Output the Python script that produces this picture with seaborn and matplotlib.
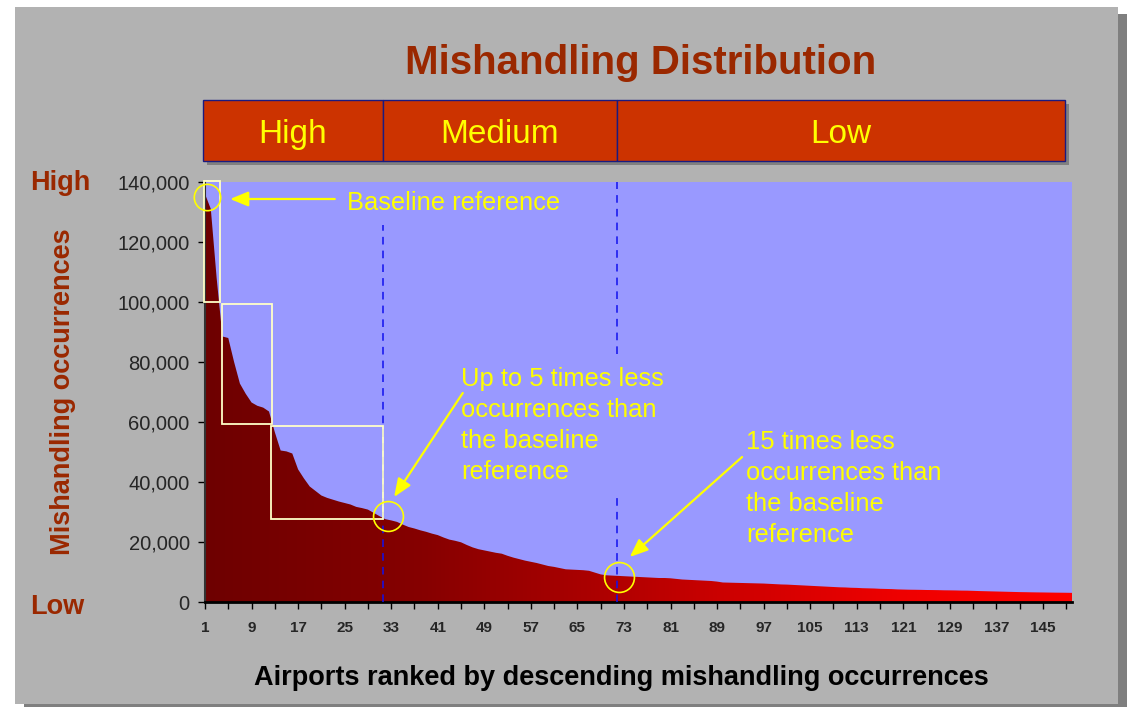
import numpy as np
import matplotlib
matplotlib.use("Agg")
import matplotlib.pyplot as plt
import seaborn as sns
import pandas as pd
from matplotlib.patches import Rectangle
from matplotlib.colors import LinearSegmentedColormap
from matplotlib.ticker import FuncFormatter, FixedLocator

# ---------------- data ----------------
ranks = list(range(1, 151))
occurrences = [
    136000, 131000, 108000, 88500, 88000, 80000, 72800, 69400, 66500, 65400,
    64800, 63500, 56600, 50500, 50200, 49500, 44200, 41200, 38500, 37000,
    35500, 34700, 34100, 33500, 33000, 32500, 31700, 31300, 30800, 29700,
    28600, 27600, 27200, 26700, 25800, 25000, 24500, 23900, 23400, 22800,
    22300, 21500, 20800, 20400, 19900, 19000, 18200, 17600, 17200, 16800,
    16400, 16100, 15400, 14800, 14300, 13800, 13400, 13000, 12500, 12000,
    11700, 11300, 10900, 10800, 10700, 10600, 10400, 9800, 9200, 8900,
    8800, 8700, 8600, 8500, 8400, 8300, 8200, 8100, 8000, 8000,
    7900, 7700, 7500, 7400, 7300, 7200, 7100, 7000, 6800, 6500,
    6450, 6400, 6350, 6300, 6250, 6200, 6150, 6050, 5950, 5850,
    5800, 5700, 5600, 5500, 5400, 5300, 5200, 5100, 5000, 4900,
    4850, 4750, 4700, 4600, 4550, 4500, 4400, 4350, 4300, 4200,
    4150, 4100, 4080, 4050, 4000, 3980, 3950, 3900, 3880, 3850,
    3800, 3780, 3720, 3650, 3600, 3550, 3500, 3450, 3400, 3350,
    3300, 3270, 3230, 3200, 3180, 3150, 3120, 3100, 3080, 3050,
]
xtick_labels = [str(v) for v in range(1, 151, 8)]
ytick_values = [0, 20000, 40000, 60000, 80000, 100000, 120000, 140000]
band_labels = ["High", "Medium", "Low"]

title = "Mishandling Distribution"
xlabel = "Airports ranked by descending mishandling occurrences"
ylabel = "Mishandling occurrences"

df = pd.DataFrame({"rank": ranks, "occurrences": occurrences})

# ---------------- style ----------------
sns.set_style("ticks")
plt.rcParams['font.family'] = ['Liberation Sans', 'DejaVu Sans']

W, H = 1127, 707
fig = plt.figure(figsize=(W / 100, H / 100), dpi=100)
fig.patch.set_facecolor("white")

DARK_RED = "#9a2800"
YELLOW = "#ffff00"

# background / frame axes (pixel coordinates)
bg = fig.add_axes([0, 0, 1, 1], zorder=0)
bg.set_xlim(0, W)
bg.set_ylim(H, 0)
bg.axis("off")
bg.add_patch(Rectangle((24, 14), W - 24, H - 14, facecolor="#7f7f7f", edgecolor="none"))
bg.add_patch(Rectangle((15, 7), 1118 - 15, 704 - 7, facecolor="#b2b2b2", edgecolor="none"))

# header band
band_px = [(203, 383), (383, 617), (617, 1065)]
bg.add_patch(Rectangle((207, 104), 1065 - 203, 61, facecolor="#808080", edgecolor="none"))
for (x0, x1), lab in zip(band_px, band_labels):
    bg.add_patch(Rectangle((x0, 100), x1 - x0, 61, facecolor="#cc3300",
                           edgecolor="#1a1a80", lw=1.0))
    bg.text((x0 + x1) / 2, 143, lab, ha="center", va="baseline",
            fontsize=24, color=YELLOW)

bg.text(640.5, 74, title, ha="center", va="baseline", fontsize=29,
        fontweight="bold", color=DARK_RED)
bg.text(30, 190.5, "High", ha="left", va="baseline", fontsize=19.5,
        fontweight="bold", color=DARK_RED)
bg.text(30, 614.5, "Low", ha="left", va="baseline", fontsize=19.5,
        fontweight="bold", color=DARK_RED)

# ---------------- main axes ----------------
ax = fig.add_axes([205 / W, 1 - 602 / H, (1072 - 205) / W, (602 - 182) / H], zorder=2)
ax.set_facecolor("#9999ff")

poly = ax.fill_between(df["rank"], df["occurrences"], 0, color="none", lw=0)
cmap = LinearSegmentedColormap.from_list(
    "redgrad",
    [(0.0, "#6e0000"), (0.25, "#860000"), (0.45, "#ac0000"),
     (0.6, "#cc0000"), (0.8, "#ee0000"), (1.0, "#ff0000")])
grad = np.linspace(0, 1, 512).reshape(1, -1)
im = ax.imshow(grad, cmap=cmap, aspect="auto", extent=[1, 150, 0, 140000],
               origin="lower", zorder=1, interpolation="bilinear")
im.set_clip_path(poly.get_paths()[0], transform=ax.transData)

sns.lineplot(data=df, x="rank", y="occurrences", ax=ax, color="#8b0000",
             lw=0, legend=False, zorder=2)

ax.set_xlim(1, 150)
ax.set_ylim(0, 140000)

# ticks
ax.xaxis.set_major_locator(FixedLocator(list(range(1, 151, 8))))
ax.xaxis.set_minor_locator(FixedLocator(list(range(5, 151, 8))))
ax.set_xticklabels(xtick_labels, fontsize=11, fontweight="bold")
ax.set_yticks(ytick_values)
ax.yaxis.set_major_formatter(FuncFormatter(lambda v, p: f"{int(v):,}"))
ax.tick_params(axis="x", which="both", direction="out", length=5, width=1,
               color="black", pad=9)
ax.tick_params(axis="y", which="major", direction="out", length=5, width=1,
               color="black", pad=6, labelsize=14.5)
for s in ["top", "right"]:
    ax.spines[s].set_visible(False)
ax.spines["bottom"].set_linewidth(2)
ax.spines["bottom"].set_color("black")
ax.spines["left"].set_linewidth(1.5)
ax.spines["left"].set_color("#333333")

ax.set_xlabel(xlabel, fontsize=19.5, fontweight="bold", color="black", labelpad=21)
ax.xaxis.label.set_x(0.48)
ax.set_ylabel(ylabel, fontsize=19.5, fontweight="bold", color=DARK_RED, labelpad=30)

# dashed separators
ax.plot([31.6, 31.6], [0, 125700], color="#1010ee", lw=1.1, ls=(0, (5, 4)), zorder=3)
ax.plot([71.8, 71.8], [0, 36400], color="#1010ee", lw=1.1, ls=(0, (5, 4)), zorder=3)
ax.plot([71.8, 71.8], [82700, 140000], color="#1010ee", lw=1.1, ls=(0, (5, 4)), zorder=3)

# step rectangles
RECT_C = "#ffffc8"
for (x0, x1, y0, y1) in [(0.85, 3.6, 100000, 140300),
                         (3.9, 12.5, 59400, 99300),
                         (12.4, 31.6, 27600, 58800)]:
    ax.add_patch(Rectangle((x0, y0), x1 - x0, y1 - y0, fill=False,
                           edgecolor=RECT_C, lw=1.3, clip_on=False, zorder=4))

# circles
ax.plot([1.34], [135000], marker="o", ms=19, mfc="none", mec=YELLOW, mew=1.2,
        clip_on=False, zorder=5)
ax.plot([32.4], [28667], marker="o", ms=21.5, mfc="none", mec=YELLOW, mew=1.2,
        clip_on=False, zorder=5)
ax.plot([72.2], [8333], marker="o", ms=21.5, mfc="none", mec=YELLOW, mew=1.2,
        clip_on=False, zorder=5)

# arrows
aprops = dict(arrowstyle="-|>,head_length=1.1,head_width=0.45", color=YELLOW,
              lw=1.6, shrinkA=0, shrinkB=0)
ax.annotate("", xy=(5.3, 134333), xytext=(23.3, 134333), arrowprops=aprops, zorder=5)
ax.annotate("", xy=(33.5, 35000), xytext=(45.3, 69667), arrowprops=aprops, zorder=5)
ax.annotate("", xy=(74.0, 15000), xytext=(93.3, 48333), arrowprops=aprops, zorder=5)

# annotation texts (va='baseline' anchors the last line's baseline)
ax.text(25.4, 130700, "Baseline reference", ha="left", va="baseline",
        fontsize=18.4, color=YELLOW, zorder=6)
ax.text(45.0, 41000, "Up to 5 times less\noccurrences than\nthe baseline\nreference",
        ha="left", va="baseline", fontsize=18.4, color=YELLOW, linespacing=1.37, zorder=6)
ax.text(93.95, 20000, "15 times less\noccurrences than\nthe baseline\nreference",
        ha="left", va="baseline", fontsize=18.4, color=YELLOW, linespacing=1.37, zorder=6)

fig.savefig("out.png", dpi=100, facecolor=fig.get_facecolor())
